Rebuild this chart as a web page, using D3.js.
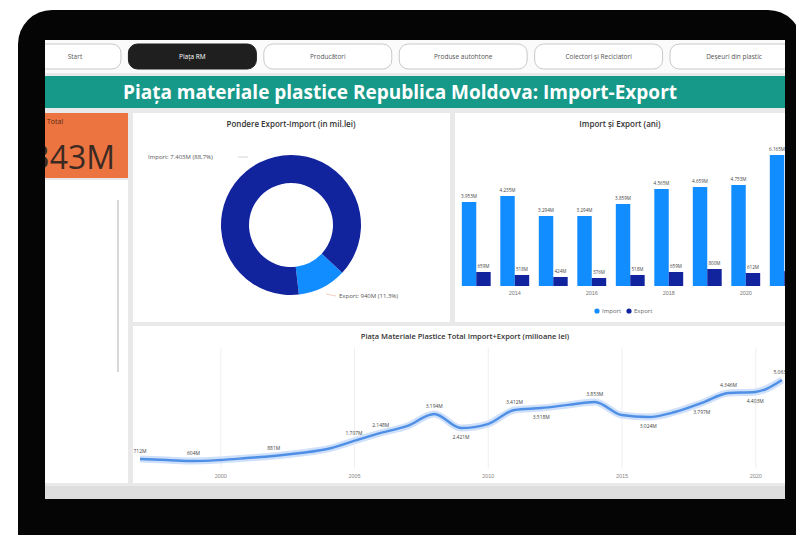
<!DOCTYPE html>
<html lang="en">
<head>
<meta charset="UTF-8">
<title>Piața materiale plastice RM</title>
<style>
    html, body { margin: 0; padding: 0; background: #fff; }
    svg { display: block; font-family: "Open Sans", "DejaVu Sans", sans-serif; }
</style>
</head>
<body>
<svg id="chart" width="796" height="535"></svg>
<script src="https://cdnjs.cloudflare.com/ajax/libs/d3/7.8.5/d3.min.js"></script>
<script>
// ---- data ----
const tabs = ["Start", "Piața RM", "Producători", "Produse autohtone", "Colectori și Reciclatori", "Deșeuri din plastic"];
const activeTab = "Piața RM";

const shareNames = ["Export", "Import"];
const shareValues = [940, 7403];          // mil. lei

const barYears = [2013, 2014, 2015, 2016, 2017, 2018, 2019, 2020, 2021];
const importValues = [3953, 4235, 3294, 3294, 3859, 4565, 4659, 4753, 6165];
const exportValues = [659, 518, 424, 376, 518, 659, 800, 612, 700];
const barTickYears = [2014, 2016, 2018, 2020];

const lineYears = d3.range(1997, 2022);
const totalValues = [712, 658, 604, 662, 768, 881, 1046, 1263, 1707, 2148, 2532, 3194, 2421,
                     2637, 3412, 3518, 3689, 3853, 3137, 3024, 3301, 3797, 4346, 4403, 5063];
const lineTickYears = [2000, 2005, 2010, 2015, 2020];
const labelledYears = [1997, 1999, 2002, 2005, 2006, 2008, 2009, 2011, 2012, 2014, 2016, 2018, 2019, 2020, 2021];
const labelBelowYears = [2009, 2012, 2016, 2018, 2020];

const fmt = v => v >= 1000 ? d3.format(",")(v).replace(",", ".") + "M" : v + "M";
const total = d3.sum(shareValues);

const svg = d3.select("#chart");

// ---- laptop frame ----
svg.append("rect").attr("x", 18).attr("y", 10).attr("width", 784).attr("height", 560)
    .attr("rx", 34).attr("fill", "#050505");

svg.append("clipPath").attr("id", "screen")
    .append("rect").attr("x", 45).attr("y", 40).attr("width", 740).attr("height", 459);

const screen = svg.append("g").attr("clip-path", "url(#screen)");
screen.append("rect").attr("x", 45).attr("y", 40).attr("width", 740).attr("height", 459).attr("fill", "#e9e9e9");

// ---- tab bar ----
screen.append("rect").attr("x", 45).attr("y", 40).attr("width", 740).attr("height", 33).attr("fill", "#fbfbfb");
const tabX = d3.scaleBand().domain(tabs).range([-7, 798]).paddingInner(0.055);
const tab = screen.selectAll(".tab").data(tabs).join("g").attr("class", "tab");
tab.append("rect")
    .attr("x", d => tabX(d)).attr("y", 44).attr("width", tabX.bandwidth()).attr("height", 25).attr("rx", 9)
    .attr("fill", d => d === activeTab ? "#1f1f1f" : "#fff")
    .attr("stroke", d => d === activeTab ? "#1f1f1f" : "#c9c9c9");
tab.append("text")
    .attr("x", d => tabX(d) + tabX.bandwidth() / 2 + (d === "Start" ? 18 : 0)).attr("y", 59)
    .attr("text-anchor", "middle").attr("font-size", 6.5)
    .attr("fill", d => d === activeTab ? "#fff" : "#555").text(d => d);

// ---- banner ----
screen.append("rect").attr("x", 45).attr("y", 76).attr("width", 740).attr("height", 32).attr("fill", "#17998a");
screen.append("text").attr("x", 400).attr("y", 99).attr("text-anchor", "middle")
    .attr("font-size", 19).attr("font-weight", 700).attr("fill", "#fff")
    .text("Piața materiale plastice Republica Moldova: Import-Export");

// ---- left card ----
screen.append("rect").attr("x", 45).attr("y", 113).attr("width", 83).attr("height", 65).attr("fill", "#ec7441");
screen.append("text").attr("x", 47).attr("y", 124).attr("font-size", 7).attr("fill", "#5a2a12").text("Total");
screen.append("text").attr("x", 115).attr("y", 169).attr("text-anchor", "end")
    .attr("font-size", 32).attr("font-weight", 500).attr("fill", "#3a2a22").text(fmt(total));
screen.append("rect").attr("x", 45).attr("y", 180).attr("width", 83).attr("height", 303).attr("fill", "#fff");
screen.append("rect").attr("x", 117).attr("y", 200).attr("width", 2).attr("height", 172).attr("fill", "#d8d8d8");

// ---- panels ----
const panels = [[133, 113, 317, 209], [455, 113, 335, 209], [133, 326, 657, 157]];
screen.selectAll(".panel").data(panels).join("rect").attr("class", "panel")
    .attr("x", d => d[0]).attr("y", d => d[1]).attr("width", d => d[2]).attr("height", d => d[3])
    .attr("fill", "#fff");

// ---- donut ----
screen.append("text").attr("x", 291).attr("y", 127).attr("text-anchor", "middle")
    .attr("font-size", 8).attr("font-weight", 600).attr("fill", "#333")
    .text("Pondere Export-Import (in mil.lei)");

const a0 = 133 * Math.PI / 180;
const pie = d3.pie().sort(null).startAngle(a0).endAngle(a0 + 2 * Math.PI);
const arc = d3.arc().innerRadius(42).outerRadius(70);
const shareColor = d3.scaleOrdinal().domain(shareNames).range(["#118dff", "#12239e"]);
const donut = screen.append("g").attr("transform", "translate(291,225)");
donut.selectAll("path").data(pie(shareValues)).join("path")
    .attr("d", arc).attr("fill", (d, i) => shareColor(shareNames[i]));

const pct = v => d3.format(".1f")(v / total * 100).replace(".", ",") + "%";
screen.append("text").attr("x", 148).attr("y", 159).attr("font-size", 6).attr("fill", "#555")
    .text(`Import: ${fmt(shareValues[1])} (${pct(shareValues[1])})`);
screen.append("line").attr("x1", 238).attr("y1", 157).attr("x2", 248).attr("y2", 157).attr("stroke", "#bbb").attr("stroke-width", 0.6);
screen.append("text").attr("x", 339).attr("y", 298).attr("font-size", 6).attr("fill", "#555")
    .text(`Export: ${fmt(shareValues[0])} (${pct(shareValues[0])})`);
screen.append("line").attr("x1", 326).attr("y1", 294).attr("x2", 336).attr("y2", 296).attr("stroke", "#f0b090").attr("stroke-width", 0.6);

// ---- bars ----
screen.append("text").attr("x", 620).attr("y", 127).attr("text-anchor", "middle")
    .attr("font-size", 8).attr("font-weight", 600).attr("fill", "#333").text("Import și Export (ani)");

const barClip = svg.append("clipPath").attr("id", "barclip");
barClip.append("rect").attr("x", 455).attr("y", 113).attr("width", 330).attr("height", 209);
const bars = screen.append("g").attr("clip-path", "url(#barclip)");

const x0 = d3.scaleBand().domain(barYears).range([457, 803.5]).paddingInner(0.25).paddingOuter(0.125);
const x1 = d3.scaleBand().domain(["Import", "Export"]).range([0, x0.bandwidth()]);
const yB = d3.scaleLinear().domain([0, 6400]).range([286, 150]);
const series = [["Import", importValues], ["Export", exportValues]];
const barColor = d3.scaleOrdinal().domain(["Import", "Export"]).range(["#118dff", "#12239e"]);

series.forEach(([name, vals]) => {
    const g = bars.append("g");
    g.selectAll("rect").data(vals).join("rect")
        .attr("x", (d, i) => x0(barYears[i]) + x1(name)).attr("y", d => yB(d))
        .attr("width", x1.bandwidth()).attr("height", d => yB(0) - yB(d))
        .attr("fill", barColor(name));
    g.selectAll("text").data(vals).join("text")
        .attr("x", (d, i) => x0(barYears[i]) + x1(name) + x1.bandwidth() / 2).attr("y", d => yB(d) - 4)
        .attr("text-anchor", "middle").attr("font-size", 4.6).attr("fill", "#444").text(d => fmt(d));
});

const xAxisB = d3.axisBottom(x0).tickValues(barTickYears).tickSize(0).tickPadding(5);
bars.append("g").attr("transform", "translate(0,286)").call(xAxisB)
    .call(g => g.select(".domain").remove())
    .call(g => g.selectAll("text").attr("font-size", 5.5).attr("fill", "#777").attr("font-family", null));

const legend = screen.append("g").attr("transform", "translate(597,311)");
["Import", "Export"].forEach((n, i) => {
    legend.append("circle").attr("cx", i * 32).attr("cy", 0).attr("r", 2.6).attr("fill", barColor(n));
    legend.append("text").attr("x", i * 32 + 5).attr("y", 2).attr("font-size", 6).attr("fill", "#666").text(n);
});

// ---- line ----
screen.append("text").attr("x", 465).attr("y", 339).attr("text-anchor", "middle")
    .attr("font-size", 7.5).attr("font-weight", 600).attr("fill", "#333")
    .text("Piața Materiale Plastice Total Import+Export (milioane lei)");

const xL = d3.scaleLinear().domain([1997, 2021]).range([140, 782]);
const yL = d3.scaleLinear().domain([0, 5500]).range([472, 372]);

const xAxisL = d3.axisBottom(xL).tickValues(lineTickYears).tickFormat(d3.format("d"))
    .tickSize(-120).tickPadding(6);
screen.append("g").attr("transform", "translate(0,468)").call(xAxisL)
    .call(g => g.select(".domain").remove())
    .call(g => g.selectAll("line").attr("stroke", "#efefef"))
    .call(g => g.selectAll("text").attr("font-size", 5.5).attr("fill", "#888").attr("font-family", null));

const line = d3.line().x((d, i) => xL(lineYears[i])).y(d => yL(d)).curve(d3.curveMonotoneX);
screen.append("path").datum(totalValues).attr("d", line)
    .attr("fill", "none").attr("stroke", "#cfe0fa").attr("stroke-width", 7);
screen.append("path").datum(totalValues).attr("d", line)
    .attr("fill", "none").attr("stroke", "#4f8fe6").attr("stroke-width", 2.4);

screen.append("g").selectAll("text").data(labelledYears).join("text")
    .attr("x", d => xL(d))
    .attr("y", d => yL(totalValues[lineYears.indexOf(d)]) + (labelBelowYears.includes(d) ? 11 : -6))
    .attr("text-anchor", "middle").attr("font-size", 5).attr("fill", "#444")
    .text(d => fmt(totalValues[lineYears.indexOf(d)]));

// bottom strip of the report page
screen.append("rect").attr("x", 45).attr("y", 486).attr("width", 740).attr("height", 13).attr("fill", "#dedede");
</script>
</body>
</html>
